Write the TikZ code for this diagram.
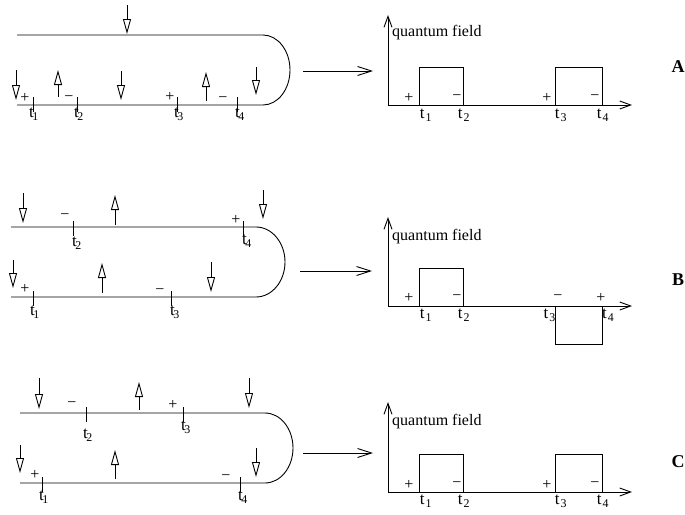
\documentclass[tikz,border=0pt]{standalone}
\usepackage{fontspec}
\setmainfont{Liberation Serif}
\usetikzlibrary{arrows.meta}
\tikzset{
  x=1pt,y=-1pt,
  ln/.style={line width=0.9pt},
  harr/.style={line width=0.9pt,-{Triangle[open,length=15pt,width=8pt,line width=0.9pt]}},
  marr/.style={line width=0.9pt,-{Straight Barb[length=14pt,width=9pt,line width=0.9pt]}},
  axarr/.style={line width=0.9pt,-{Straight Barb[length=11pt,width=8pt,line width=0.9pt]}},
  sgn/.style={inner sep=0pt,font=\fontsize{16}{17}\selectfont},
  tl/.style={inner sep=0pt,anchor=north,font=\fontsize{17}{18}\selectfont},
  qf/.style={inner sep=0pt,anchor=west,font=\fontsize{16}{17}\selectfont},
  lett/.style={inner sep=0pt,font=\fontsize{18}{19}\selectfont\bfseries},
}
\newcommand{\tL}[1]{t\kern-1.5pt\textsubscript{#1}}
\newcommand{\tR}[1]{t\kern1pt\textsubscript{#1}}
\begin{document}
\begin{tikzpicture}
\useasboundingbox (0,0) rectangle (685,514);
% ================= Panel A =================
\draw[ln] (17,35) -- (263,35) .. controls (277.9,35) and (290,50.7) .. (290,70)
  .. controls (290,89.3) and (277.9,105) .. (263,105) -- (17,105);
\foreach \x in {33,77,177,237} \draw[ln] (\x,97) -- (\x,112);
\node[sgn] (aP1) at (25,98) {+};
\node[sgn] (aM2) at (69,99) {−};
\node[sgn] (aP3) at (170,97) {+};
\node[sgn] (aM4) at (223,100) {−};
\node[tl] (aT1) at (34,108) {\tL{1}};
\node[tl] (aT2) at (79,108) {\tL{2}};
\node[tl] (aT3) at (179,108) {\tL{3}};
\node[tl] (aT4) at (240,108) {\tL{4}};
\draw[harr] (127,5) -- (127,34);
\draw[harr] (16,70) -- (16,100);
\draw[harr] (58,97) -- (58,70);
\draw[harr] (121,71) -- (121,100);
\draw[harr] (206,101) -- (206,72);
\draw[harr] (256,67) -- (256,95);
\coordinate (aS) at (303,71); \coordinate (aE) at (373,71);
\draw[marr] (aS) -- (aE);
\coordinate (aO) at (388,105);
\draw[axarr] (aO) -- (388,15);
\draw[axarr] (aO) -- (632,105);
\node[qf] (aQ) at (392,33) {quantum field};
\draw[ln] (419,105) -- (419,67) -- (463,67) -- (463,105);
\draw[ln] (555,105) -- (555,67) -- (602,67) -- (602,105);
\node[sgn] (gaP1) at (409,98) {+};
\node[sgn] (gaM2) at (457,98) {−};
\node[sgn] (gaP3) at (547,98) {+};
\node[sgn] (gaM4) at (595,98) {−};
\node[tl] (gaT1) at (426,109) {\tR{1}};
\node[tl] (gaT2) at (464,109) {\tR{2}};
\node[tl] (gaT3) at (561,109) {\tR{3}};
\node[tl] (gaT4) at (603,109) {\tR{4}};
\node[lett] (LA) at (678,67) {A};
% ================= Panel B =================
\draw[ln] (11,227) -- (256,227) .. controls (272,227) and (285,242.7) .. (285,262)
  .. controls (285,281.3) and (272,297) .. (256,297) -- (11,297);
\foreach \x in {73,243} \draw[ln] (\x,221) -- (\x,236);
\foreach \x in {33,171} \draw[ln] (\x,291) -- (\x,306);
\node[sgn] (bM2) at (65,217) {−};
\node[sgn] (bP4) at (236,220) {+};
\node[sgn] (bP1) at (25,289) {+};
\node[sgn] (bM3) at (160,292) {−};
\node[tl] (bT2) at (77,237) {\tL{2}};
\node[tl] (bT4) at (247,235) {\tL{4}};
\node[tl] (bT1) at (35,306) {\tL{1}};
\node[tl] (bT3) at (175,306) {\tL{3}};
\draw[harr] (23,193) -- (23,223);
\draw[harr] (115,225) -- (115,195);
\draw[harr] (263,190) -- (263,219);
\draw[harr] (13,260) -- (13,288);
\draw[harr] (102,293) -- (102,263);
\draw[harr] (211,262) -- (211,292);
\coordinate (bS) at (300,271); \coordinate (bE) at (372,271);
\draw[marr] (bS) -- (bE);
\coordinate (bO) at (388,306);
\draw[axarr] (bO) -- (388,217);
\draw[axarr] (bO) -- (632,306);
\node[qf] (bQ) at (392,237) {quantum field};
\draw[ln] (419,306) -- (419,268) -- (463,268) -- (463,306);
\draw[ln] (555,306) -- (555,344) -- (602,344) -- (602,306);
\node[sgn] (gbP1) at (409,298) {+};
\node[sgn] (gbM2) at (457,298) {−};
\node[sgn] (gbM3) at (558,298) {−};
\node[sgn] (gbP4) at (601,298) {+};
\node[tl] (gbT1) at (426,309) {\tR{1}};
\node[tl] (gbT2) at (464,309) {\tR{2}};
\node[tl,anchor=north east] (gbT3) at (556,309) {\tR{3}};
\node[tl,anchor=north west] (gbT4) at (602,309) {\tR{4}};
\node[lett] (LB) at (678,280) {B};
% ================= Panel C =================
\draw[ln] (20,413) -- (265,413) .. controls (280.5,413) and (293,428.7) .. (293,448)
  .. controls (293,467.3) and (280.5,483) .. (265,483) -- (20,483);
\foreach \x in {86,183} \draw[ln] (\x,407) -- (\x,422);
\foreach \x in {42,240} \draw[ln] (\x,477) -- (\x,492);
\node[sgn] (cM2) at (72,405) {−};
\node[sgn] (cP3) at (173,405) {+};
\node[sgn] (cP1) at (35,475) {+};
\node[sgn] (cM4) at (226,478) {−};
\node[tl] (cT2) at (88,429) {\tL{2}};
\node[tl] (cT3) at (186,421) {\tL{3}};
\node[tl] (cT1) at (44,491) {\tL{1}};
\node[tl] (cT4) at (243,491) {\tL{4}};
\draw[harr] (39,378) -- (39,409);
\draw[harr] (139,410) -- (139,382);
\draw[harr] (249,378) -- (249,408);
\draw[harr] (20,445) -- (20,473);
\draw[harr] (115,479) -- (115,450);
\draw[harr] (256,448) -- (256,477);
\coordinate (cS) at (303,453); \coordinate (cE) at (373,453);
\draw[marr] (cS) -- (cE);
\coordinate (cO) at (388,492);
\draw[axarr] (cO) -- (388,402);
\draw[axarr] (cO) -- (632,492);
\node[qf] (cQ) at (392,422) {quantum field};
\draw[ln] (419,492) -- (419,454) -- (463,454) -- (463,492);
\draw[ln] (555,492) -- (555,454) -- (602,454) -- (602,492);
\node[sgn] (gcP1) at (409,485) {+};
\node[sgn] (gcM2) at (457,485) {−};
\node[sgn] (gcP3) at (547,485) {+};
\node[sgn] (gcM4) at (595,485) {−};
\node[tl] (gcT1) at (426,495) {\tR{1}};
\node[tl] (gcT2) at (464,495) {\tR{2}};
\node[tl] (gcT3) at (561,495) {\tR{3}};
\node[tl] (gcT4) at (603,495) {\tR{4}};
\node[lett] (LC) at (678,462) {C};
\end{tikzpicture}
\end{document}
